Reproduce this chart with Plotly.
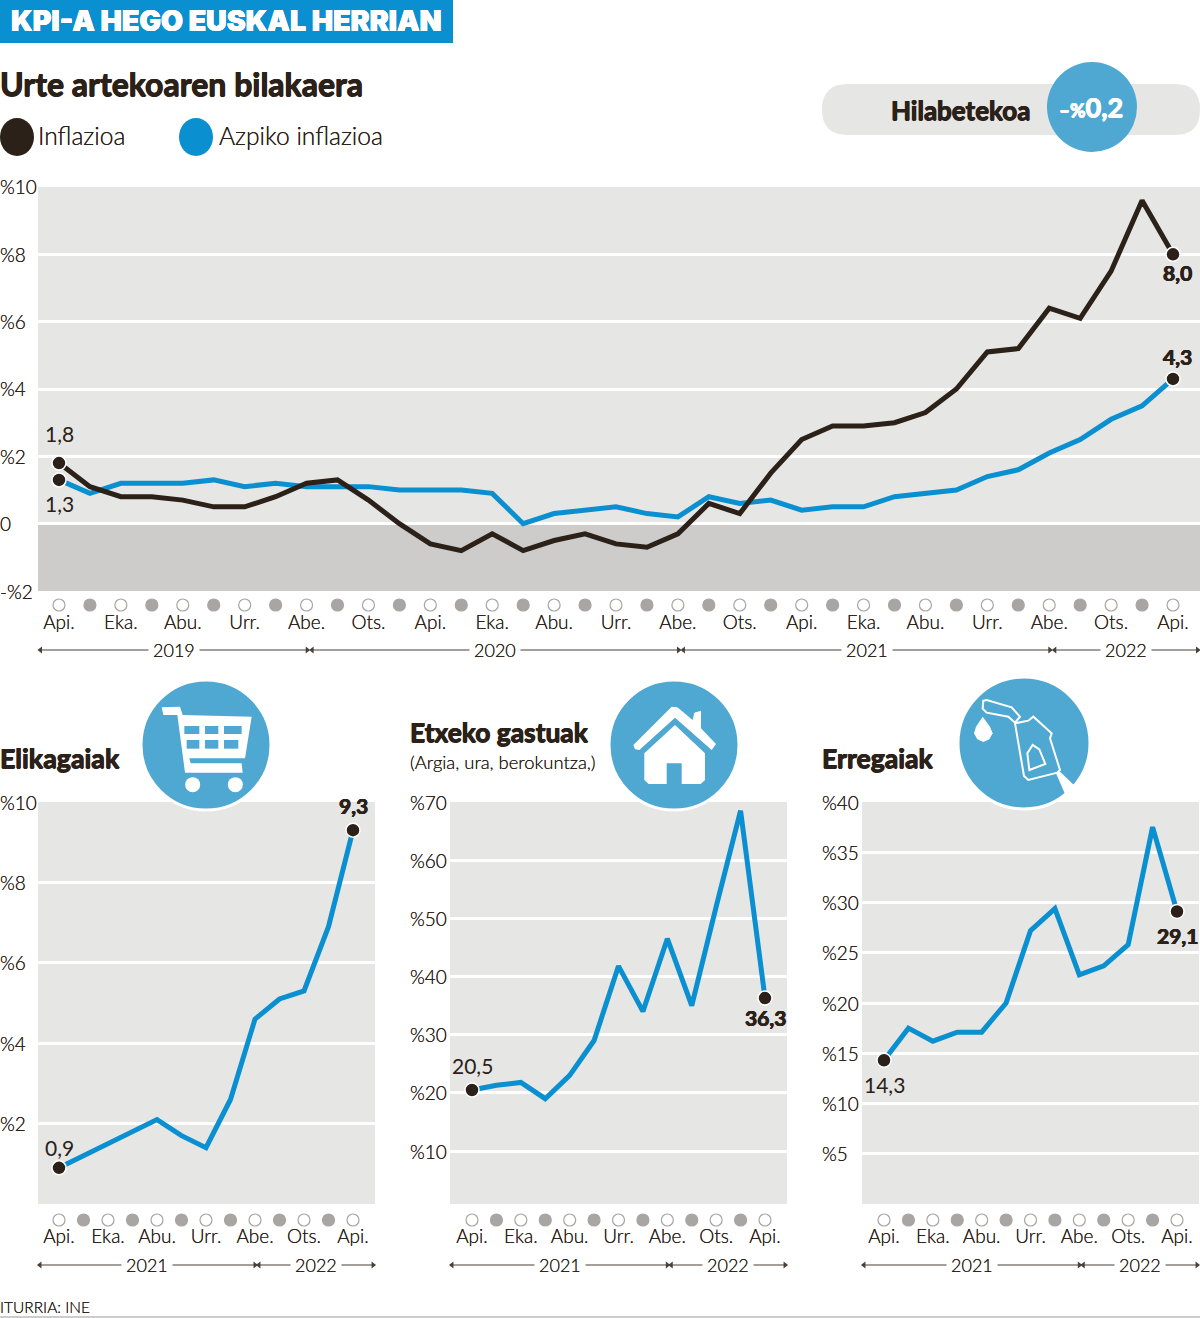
import plotly.graph_objects as go

W = 1200
H = 1318

DARK = "#2b2118"
BLUE = "#0a8fd0"
ICON_BLUE = "#4ea8d2"
PANEL = "#e6e6e5"
NEGATIVE = "#cdcccb"
DOT_GREY = "#a8a5a2"
FONT = "Lato"
THIN = "0 0 0.4px #2b2118"

# datuak
main_months = ["Api.", "Eka.", "Abu.", "Urr.", "Abe.", "Ots."]
inflazioa = [1.8, 1.1, 0.8, 0.8, 0.7, 0.5, 0.5, 0.8, 1.2, 1.3, 0.7, 0.0, -0.6, -0.8, -0.3, -0.8, -0.5, -0.3, -0.6,
             -0.7, -0.3, 0.6, 0.3, 1.5, 2.5, 2.9, 2.9, 3.0, 3.3, 4.0, 5.1, 5.2, 6.4, 6.1, 7.5, 9.6, 8.0]
azpiko = [1.3, 0.9, 1.2, 1.2, 1.2, 1.3, 1.1, 1.2, 1.1, 1.1, 1.1, 1.0, 1.0, 1.0, 0.9, 0.0, 0.3, 0.4, 0.5, 0.3,
          0.2, 0.8, 0.6, 0.7, 0.4, 0.5, 0.5, 0.8, 0.9, 1.0, 1.4, 1.6, 2.1, 2.5, 3.1, 3.5, 4.3]
main_yticks = [10, 8, 6, 4, 2, 0, -2]
main_ylabels = ["%10", "%8", "%6", "%4", "%2", "0", "-%2"]
main_years = ["2019", "2020", "2021", "2022"]
main_year_breaks = [8.1, 20.1, 32.1]

small_years = ["2021", "2022"]
small_year_breaks = [8.08]

elikagaiak = [0.9, 1.2, 1.5, 1.8, 2.1, 1.7, 1.4, 2.6, 4.6, 5.1, 5.3, 6.9, 9.3]
elikagaiak_ticks = [10, 8, 6, 4, 2]
elikagaiak_labels = ["%10", "%8", "%6", "%4", "%2"]

etxeko = [20.5, 21.3, 21.8, 19.0, 23.0, 29.0, 41.8, 34.0, 46.5, 35.0, 52.0, 68.5, 36.3]
etxeko_ticks = [70, 60, 50, 40, 30, 20, 10]
etxeko_labels = ["%70", "%60", "%50", "%40", "%30", "%20", "%10"]

erregaiak = [14.3, 17.5, 16.2, 17.1, 17.1, 20.0, 27.2, 29.4, 22.8, 23.7, 25.8, 37.5, 29.1]
erregaiak_ticks = [40, 35, 30, 25, 20, 15, 10, 5]
erregaiak_labels = ["%40", "%35", "%30", "%25", "%20", "%15", "%10", "%5"]


def px(x):
    return x / W


def py(y):
    return 1 - y / H


def comma(v):
    return f"{v:.1f}".replace(".", ",")


def heavy(color, d=0.5):
    return f"{d}px 0 0 {color}, -{d}px 0 0 {color}, 0 {d}px 0 {color}"


fig = go.Figure()
annotations = []
shapes = []


def note(x, y, text, size, color=DARK, weight=300, anchor="left", shadow=THIN, family=FONT):
    annotations.append(dict(x=px(x - 2 if anchor == "left" else x), y=py(y - 1), xref="paper", yref="paper", text=text,
                            showarrow=False, xanchor=anchor, yanchor="middle",
                            font=dict(family=family, size=size, color=color, weight=weight, shadow=shadow)))


def poly(points, fill="white", line=None, lw=0, ox=0, oy=0):
    # zoom-eko puntuak (3x) -> paper
    path = ""
    for i, (a, b) in enumerate(points):
        path += ("M" if i == 0 else "L") + f"{px(ox + a / 3):.5f},{py(oy + b / 3):.5f} "
    path += "Z"
    shapes.append(dict(type="path", path=path, xref="paper", yref="paper", layer="above",
                       fillcolor=fill, line=dict(color=line or fill, width=lw)))


def circle(cx, cy, rx, ry=None, fill="white", line=None, lw=0):
    ry = ry or rx
    shapes.append(dict(type="circle", xref="paper", yref="paper", layer="above",
                       x0=px(cx - rx), x1=px(cx + rx), y0=py(cy + ry), y1=py(cy - ry),
                       fillcolor=fill, line=dict(color=line or fill, width=lw)))


def panel(n, left, right, top, bottom, first, last, ymin, ymax, ticks, labels, grid, years, breaks, label_x,
          months_count, dot_off, year_off, tick_len):
    suffix = "" if n == 1 else str(n)
    step = (last - first) / (months_count - 1)
    x0 = (left - first) / step
    x1 = (right - first) / step

    tickvals = list(range(0, months_count, 2))
    ticktext = [main_months[(i // 2) % len(main_months)] for i in tickvals]

    strip = n + 4
    strip_h = 75
    fig.update_layout({
        "xaxis" + suffix: dict(domain=[px(left), px(right)], range=[x0, x1], anchor="y" + suffix,
                               tickvals=tickvals, ticktext=ticktext, ticks="outside", ticklen=tick_len,
                               tickcolor="rgba(0,0,0,0)", showgrid=False, zeroline=False, showline=False,
                               fixedrange=True,
                               tickfont=dict(family=FONT, size=19, color=DARK, weight=300, shadow=THIN)),
        "yaxis" + suffix: dict(domain=[py(bottom), py(top)], range=[ymin, ymax], anchor="x" + suffix,
                               tickvals=grid, showticklabels=False, ticks="", gridcolor="white", gridwidth=3,
                               zeroline=False, showline=False, fixedrange=True),
        # azpiko zerrenda: puntuak eta urteak
        f"xaxis{strip}": dict(domain=[px(left), px(right)], range=[x0, x1], anchor=f"y{strip}", visible=False,
                              fixedrange=True),
        f"yaxis{strip}": dict(domain=[py(bottom + strip_h), py(bottom)], range=[strip_h, 0], anchor=f"x{strip}",
                              visible=False, fixedrange=True),
    })

    shapes.append(dict(type="rect", xref=f"x{suffix} domain", yref=f"y{suffix} domain", x0=0, x1=1, y0=0, y1=1,
                       fillcolor=PANEL, line=dict(width=0), layer="below"))

    xa = "x" + suffix
    ya = "y" + suffix
    xs = f"x{strip}"
    ys = f"y{strip}"

    # hilabeteen puntuak
    all_x = list(range(months_count))
    fig.add_trace(go.Scatter(
        x=all_x, y=[dot_off] * months_count, xaxis=xs, yaxis=ys, mode="markers", cliponaxis=False, showlegend=False,
        marker=dict(size=12, color=["white" if i % 2 == 0 else DOT_GREY for i in all_x],
                    line=dict(width=1.2, color=DOT_GREY))))

    # urteen geziak
    edges = [x0] + breaks + [x1]
    for i, year in enumerate(years):
        a = edges[i] + 0.08
        b = edges[i + 1] - 0.08
        fig.add_trace(go.Scatter(
            x=[a, b], y=[year_off, year_off], xaxis=xs, yaxis=ys, mode="lines+markers", cliponaxis=False,
            showlegend=False, line=dict(color="#4a4038", width=1.2),
            marker=dict(symbol=["triangle-left", "triangle-right"], size=6, color="#4a4038")))
        annotations.append(dict(x=(edges[i] + edges[i + 1]) / 2, y=year_off, xref=xs, yref=ys, text=year,
                                showarrow=False, bgcolor="white", borderpad=4,
                                font=dict(family=FONT, size=18, color=DARK, weight=300, shadow=THIN)))

    # y ardatzeko etiketak
    for t, lab in zip(ticks, labels):
        annotations.append(dict(x=px(label_x - 2), y=t, xref="paper", yref=ya, text=lab, showarrow=False,
                                xanchor="left", yanchor="middle",
                                font=dict(family=FONT, size=19, color=DARK, weight=300, shadow=THIN)))
    return xa, ya


def end_dot(xa, ya, x, y):
    fig.add_trace(go.Scatter(x=[x], y=[y], xaxis=xa, yaxis=ya, mode="markers", cliponaxis=False, showlegend=False,
                             marker=dict(size=14, color=DARK, line=dict(width=1.5, color="white"))))


def value_label(xa, ya, x, y, shift, bold=False, xshift=0):
    annotations.append(dict(x=x, y=y, xref=xa, yref=ya, text=comma(y), showarrow=False, yshift=shift, xshift=xshift,
                            font=dict(family=FONT, size=21, color=DARK, weight=700 if bold else 400,
                                      shadow=heavy(DARK, 0.4) if bold else "none")))


def line_panel(xa, ya, values, color=BLUE, width=5):
    fig.add_trace(go.Scatter(x=list(range(len(values))), y=values, xaxis=xa, yaxis=ya, mode="lines",
                             showlegend=False, line=dict(color=color, width=width)))


# goiko grafikoa
xa, ya = panel(1, 38, 1200, 187, 591, 59, 1173, -2, 10, main_yticks, main_ylabels, [0, 2, 4, 6, 8],
               main_years, main_year_breaks, 0, len(inflazioa), 14, 59, 14)
shapes.append(dict(type="rect", xref="x domain", yref="y", x0=0, x1=1, y0=-2, y1=0, fillcolor=NEGATIVE,
                   line=dict(width=0), layer="below"))
line_panel(xa, ya, azpiko, BLUE, 5)
line_panel(xa, ya, inflazioa, DARK, 5)
last = len(inflazioa) - 1
for v in [inflazioa[0], azpiko[0]]:
    end_dot(xa, ya, 0, v)
end_dot(xa, ya, last, inflazioa[-1])
end_dot(xa, ya, last, azpiko[-1])
value_label(xa, ya, 0, inflazioa[0], 30)
value_label(xa, ya, 0, azpiko[0], -24)
value_label(xa, ya, last, inflazioa[-1], -18, True, 4)
value_label(xa, ya, last, azpiko[-1], 22, True, 4)

# behekoak
xa, ya = panel(2, 38, 375, 802, 1204, 59, 353, 0, 10, elikagaiak_ticks, elikagaiak_labels, [2, 4, 6, 8],
               small_years, small_year_breaks, 0, len(elikagaiak), 16, 61, 15)
line_panel(xa, ya, elikagaiak)
end_dot(xa, ya, 0, elikagaiak[0])
end_dot(xa, ya, 12, elikagaiak[-1])
value_label(xa, ya, 0, elikagaiak[0], 20)
value_label(xa, ya, 12, elikagaiak[-1], 25, True)

xa, ya = panel(3, 450, 787, 802, 1204, 472, 765, 0.9, 70, etxeko_ticks, etxeko_labels, [10, 20, 30, 40, 50, 60],
               small_years, small_year_breaks, 410, len(etxeko), 16, 61, 15)
line_panel(xa, ya, etxeko)
end_dot(xa, ya, 0, etxeko[0])
end_dot(xa, ya, 12, etxeko[-1])
value_label(xa, ya, 0, etxeko[0], 24)
value_label(xa, ya, 12, etxeko[-1], -19, True)

xa, ya = panel(4, 862, 1199, 802, 1204, 884, 1177, 0, 40, erregaiak_ticks, erregaiak_labels,
               [5, 10, 15, 20, 25, 30, 35], small_years, small_year_breaks, 822, len(erregaiak), 16, 61, 15)
line_panel(xa, ya, erregaiak)
end_dot(xa, ya, 0, erregaiak[0])
end_dot(xa, ya, 12, erregaiak[-1])
value_label(xa, ya, 0, erregaiak[0], -24)
value_label(xa, ya, 12, erregaiak[-1], -24, True)

# goiburua
shapes.append(dict(type="rect", xref="paper", yref="paper", x0=0, x1=px(453), y0=py(43), y1=1, fillcolor=BLUE,
                   line=dict(width=0), layer="above"))
note(11, 22, "KPI-A HEGO EUSKAL HERRIAN", 28.5, "white", 900, family="Inter", shadow=heavy("white", 0.3))
note(0, 84, "Urte artekoaren bilakaera", 32, DARK, 700, shadow=heavy(DARK))
circle(17, 137, 17, 19, DARK)
note(38, 136, "Inflazioa", 24.6)
circle(196, 137, 17, 19, BLUE)
note(219, 136, "Azpiko inflazioa", 24.6)

# hilabetekoa
shapes.append(dict(type="path", xref="paper", yref="paper", layer="above", fillcolor=PANEL, line=dict(width=0),
                   path=f"M{px(848)},{py(84)} L{px(1175)},{py(84)} Q{px(1200)},{py(84)} {px(1200)},{py(109.5)} "
                        f"Q{px(1200)},{py(135)} {px(1175)},{py(135)} L{px(848)},{py(135)} "
                        f"Q{px(822)},{py(135)} {px(822)},{py(109.5)} Q{px(822)},{py(84)} {px(848)},{py(84)} Z"))
circle(1092, 107, 45, fill=ICON_BLUE)
note(960, 111, "Hilabetekoa", 26, DARK, 700, "center", shadow=heavy(DARK))
note(1091, 107, '<span style="font-size:19px">–%</span>0,2', 27, "white", 700, "center", shadow=heavy("white"))

# azpitituluak
note(0, 759, "Elikagaiak", 26.8, DARK, 700, shadow=heavy(DARK))
note(410, 733, "Etxeko gastuak", 26.4, DARK, 700, shadow=heavy(DARK))
note(410, 763, "(Argia, ura, berokuntza,)", 18.4)
note(822, 759, "Erregaiak", 26.6, DARK, 700, shadow=heavy(DARK))
note(0, 1308, "ITURRIA: INE", 15.5)
shapes.append(dict(type="line", xref="paper", yref="paper", x0=0, x1=1, y0=py(1317), y1=py(1317),
                   line=dict(color="#9a9a9a", width=1), layer="above"))

# ikonoak: saskia
ox, oy = 130, 670
circle(206, 745, 65, fill=ICON_BLUE, line="white", lw=3)
poly([(95, 112), (150, 110), (158, 135), (365, 140), (345, 265), (178, 265), (182, 280), (335, 280), (338, 308),
      (165, 308), (142, 135), (100, 135)], ox=ox, oy=oy)
for row in [[(163, 168, 208, 192), (225, 168, 265, 192), (282, 168, 335, 192)],
            [(170, 210, 208, 236), (225, 210, 265, 236), (282, 210, 325, 236)]]:
    for a, b, c, d in row:
        poly([(a, b), (c, b), (c, d), (a, d)], fill=ICON_BLUE, ox=ox, oy=oy)
circle(ox + 188 / 3, oy + 344 / 3, 7.5)
circle(ox + 316 / 3, oy + 344 / 3, 7.5)

# etxea
ox, oy = 600, 670
circle(674, 745, 65, fill=ICON_BLUE, line="white", lw=3)
poly([(100, 225), (215, 110), (232, 112), (278, 150), (283, 128), (303, 122), (303, 175), (348, 222), (335, 240),
      (225, 143), (118, 240), (105, 238)], ox=ox, oy=oy)
poly([(225, 165), (315, 250), (315, 330), (302, 342), (245, 342), (245, 280), (200, 280), (200, 342), (146, 342),
      (133, 330), (133, 250)], ox=ox, oy=oy)

# erregaia
ox, oy = 950, 670
circle(1024, 743, 66, fill=ICON_BLUE, line="white", lw=3)
poly([(100, 92), (110, 90), (185, 112), (210, 140), (195, 158), (175, 140), (110, 128), (98, 116)], fill=ICON_BLUE,
     line="white", lw=2, ox=ox, oy=oy)
poly([(195, 160), (235, 152), (250, 140), (305, 190), (300, 205), (330, 300), (322, 308), (235, 330), (222, 318)],
     fill=ICON_BLUE, line="white", lw=2, ox=ox, oy=oy)
poly([(238, 300), (232, 250), (248, 225), (268, 238), (286, 282)], fill=ICON_BLUE, line="white", lw=2, ox=ox, oy=oy)
poly([(318, 310), (330, 305), (375, 348), (345, 372)], ox=ox, oy=oy)
poly([(98, 140), (120, 170), (128, 190), (118, 208), (100, 216), (82, 208), (72, 190), (78, 170)], ox=ox, oy=oy)

fig.update_layout(
    width=W,
    height=H,
    margin=dict(l=0, r=0, t=0, b=0),
    plot_bgcolor="white",
    paper_bgcolor="white",
    font=dict(family=FONT, color=DARK),
    showlegend=False,
    annotations=annotations,
    shapes=shapes,
)

fig.write_html("out.html", config=dict(displayModeBar=False),
               post_script="document.body.style.margin='0';document.body.style.overflow='hidden';")
